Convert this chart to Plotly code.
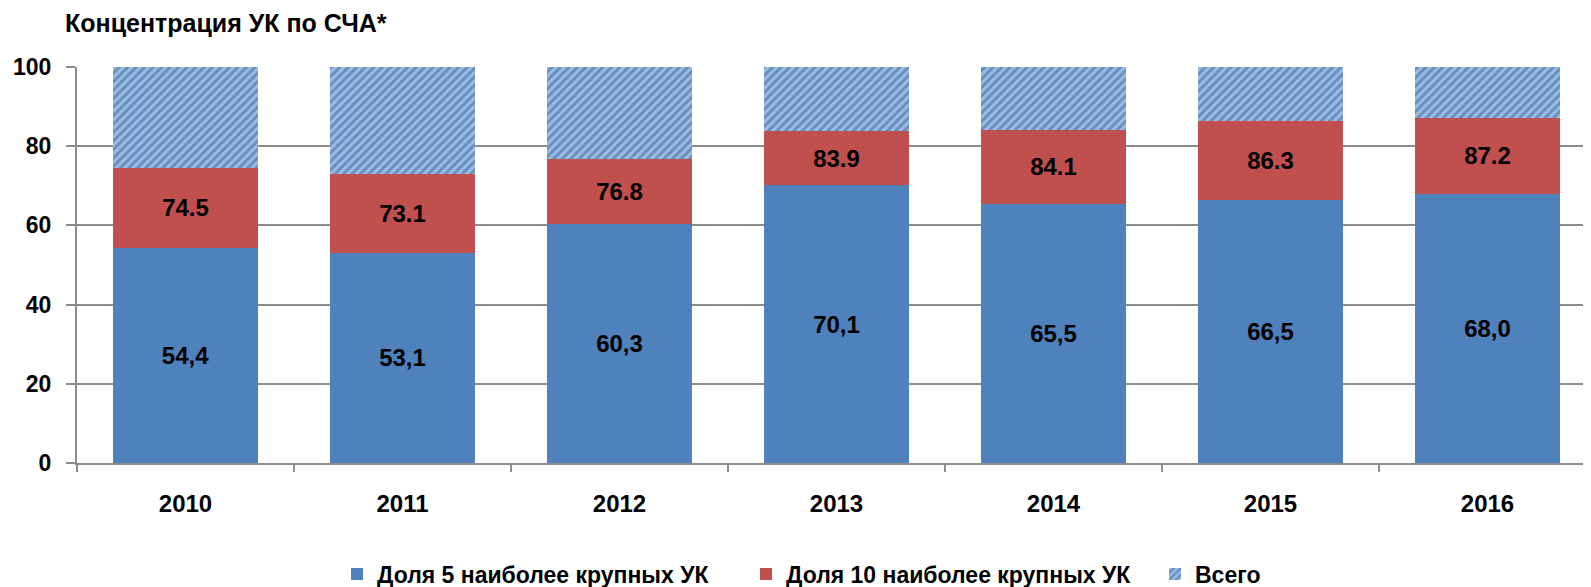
import plotly.graph_objects as go

years = ["2010", "2011", "2012", "2013", "2014", "2015", "2016"]
top5 = [54.4, 53.1, 60.3, 70.1, 65.5, 66.5, 68.0]
top10 = [74.5, 73.1, 76.8, 83.9, 84.1, 86.3, 87.2]
total = [100, 100, 100, 100, 100, 100, 100]

top5_labels = ["54,4", "53,1", "60,3", "70,1", "65,5", "66,5", "68,0"]
top10_labels = ["74.5", "73.1", "76.8", "83.9", "84.1", "86.3", "87.2"]

FONT = "Liberation Sans"
BLUE = "#4F81BD"
RED = "#C0504D"

# page body has an 8px default margin: figure is sized/offset to compensate
W, H = 1583, 579

seg10 = [b - a for a, b in zip(top5, top10)]
segAll = [c - b for b, c in zip(top10, total)]

fig = go.Figure()
fig.add_trace(go.Bar(
    x=years, y=top5, name="Доля 5 наиболее крупных УК",
    marker=dict(color=BLUE, line=dict(width=0)),
    text=top5_labels, textposition="inside", insidetextanchor="middle",
    textangle=0, textfont=dict(family=FONT, size=24, color="black", weight="bold"),
    hoverinfo="skip",
))
fig.add_trace(go.Bar(
    x=years, y=seg10, name="Доля 10 наиболее крупных УК",
    marker=dict(color=RED, line=dict(width=0)),
    text=top10_labels, textposition="inside", insidetextanchor="middle",
    textangle=0, textfont=dict(family=FONT, size=24, color="black", weight="bold"),
    hoverinfo="skip",
))
fig.add_trace(go.Bar(
    x=years, y=segAll, name="Всего",
    marker=dict(color="#95B8E0", line=dict(width=0),
                pattern=dict(shape="/", fgcolor="#34609A", bgcolor="#9CBDE3",
                             size=6, solidity=0.5)),
    hoverinfo="skip",
))

fig.update_layout(
    width=W, height=H,
    margin=dict(l=69, r=0, t=59, b=124),
    paper_bgcolor="white", plot_bgcolor="white",
    barmode="stack", bargap=0.33,
    font=dict(family=FONT, color="black"),
    title=dict(text="<b>Концентрация УК по СЧА*</b>", x=57 / W, xanchor="left",
               y=1 - 15 / H, yanchor="middle", font=dict(size=25, family=FONT),
               automargin=False),
    showlegend=True,
    legend=dict(orientation="h", xref="container", yref="container",
                x=329 / W, xanchor="left", y=1 - 566 / H, yanchor="middle",
                font=dict(size=23, family=FONT, weight="bold"),
                entrywidth=364, entrywidthmode="pixels", traceorder="normal"),
)
fig.update_xaxes(
    range=[-0.5, 6.477], showgrid=False, showline=True, linecolor="#8C8C8C", linewidth=2,
    ticks="outside", tickson="boundaries", ticklen=7, tickcolor="#8C8C8C", tickwidth=2,
    tickfont=dict(size=24, family=FONT, weight="bold"), ticklabelstandoff=18,
    automargin=False,
)
fig.update_yaxes(
    range=[0, 100], dtick=20, showgrid=True, gridcolor="#8C8C8C", gridwidth=2,
    showline=True, linecolor="#8C8C8C", linewidth=2,
    ticks="outside", ticklen=9, tickcolor="#8C8C8C", tickwidth=2,
    tickfont=dict(size=23, family=FONT, weight="bold"), ticklabelstandoff=10,
    zeroline=False, automargin=False,
)

fig.write_html("out.html")
